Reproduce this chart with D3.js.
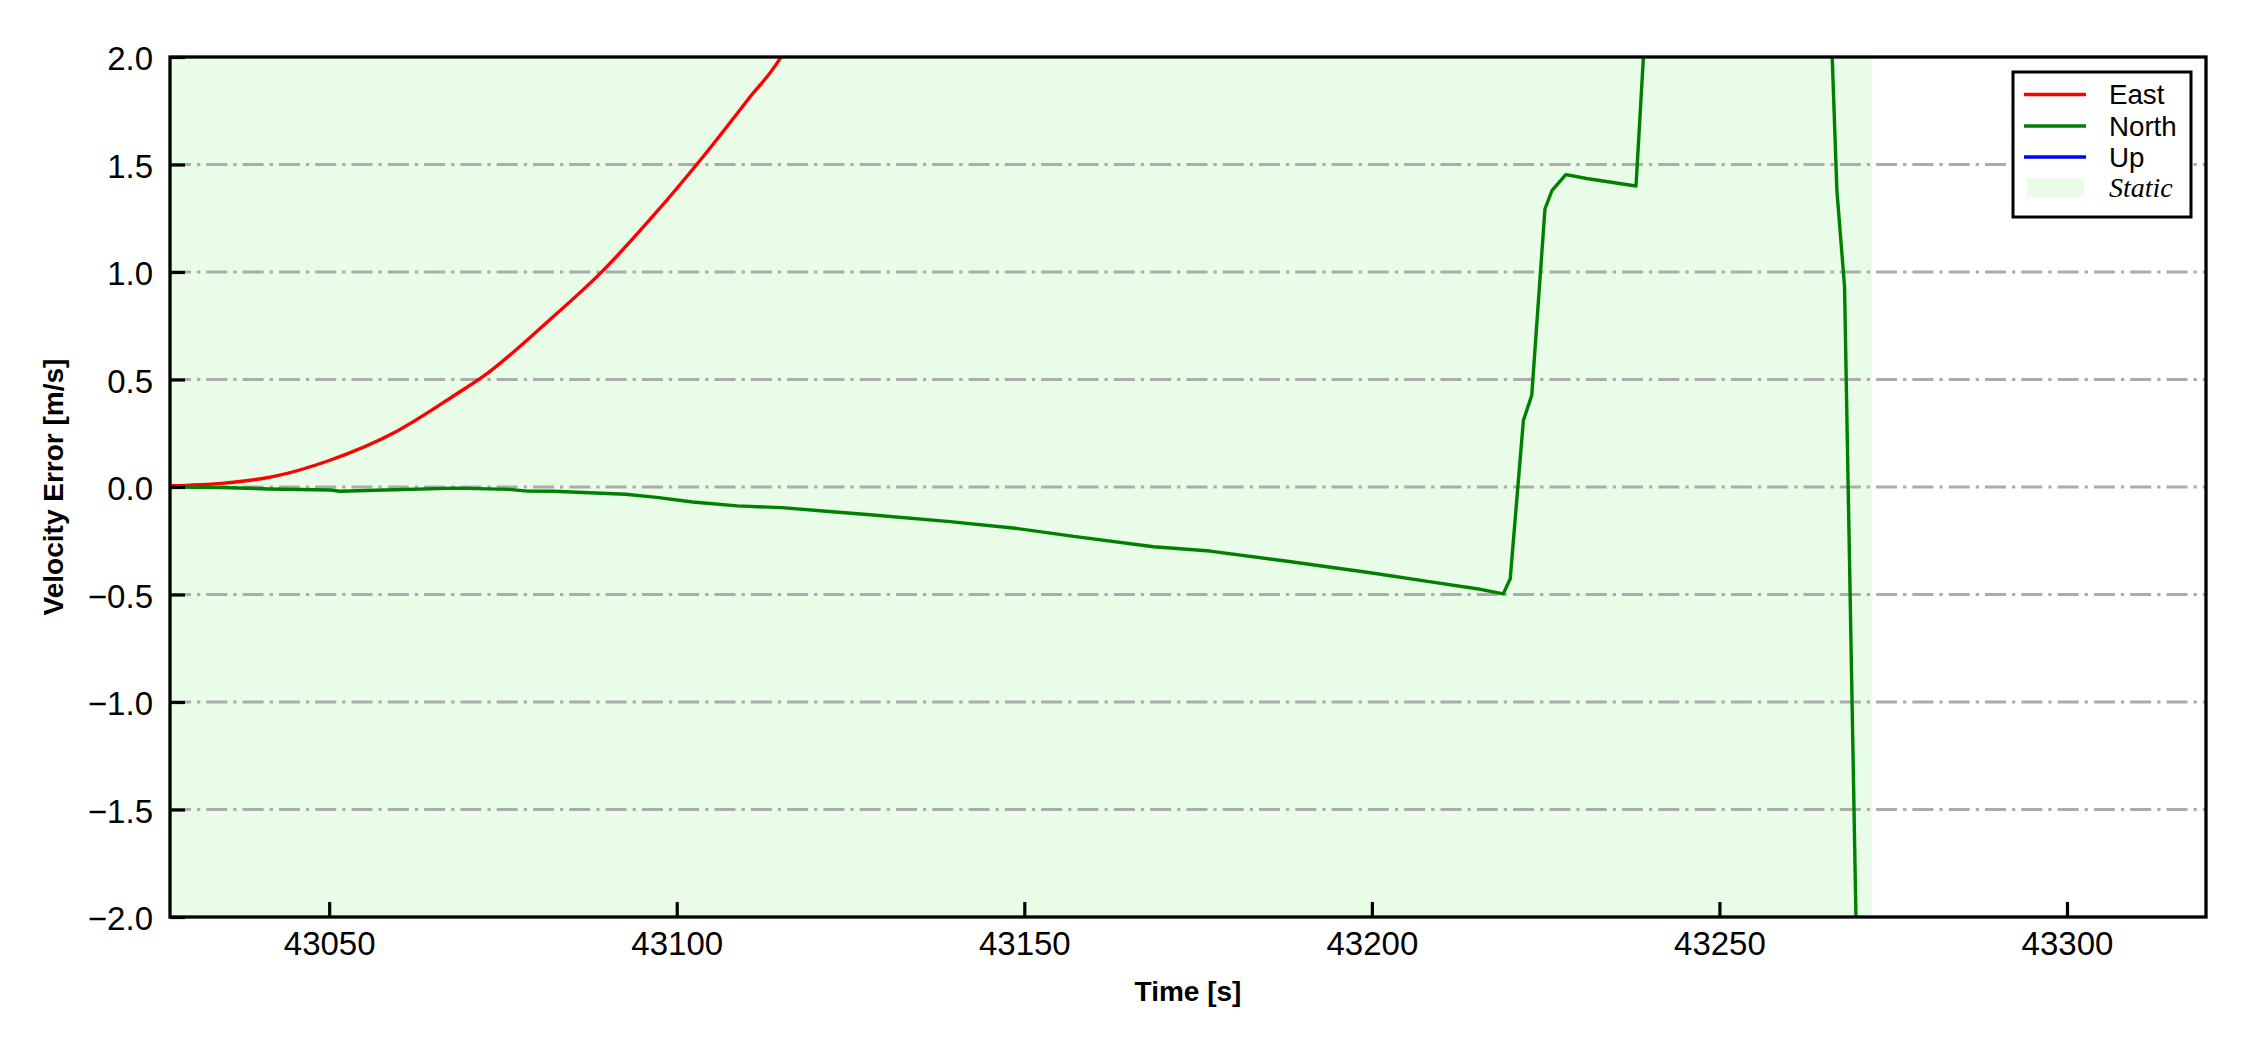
<!DOCTYPE html>
<html>
<head>
<meta charset="utf-8">
<script src="https://cdn.jsdelivr.net/npm/d3@7"></script>
<style>
  html, body { margin: 0; padding: 0; background: #ffffff; }
  svg { display: block; }
</style>
</head>
<body>
<svg id="chart" width="2250" height="1050"></svg>
<script>
// ---------------- data ----------------
const xDomain = [43027.1, 43320.0];
const yDomain = [-2.0, 2.0];
const xTicks = [43050, 43100, 43150, 43200, 43250, 43300];
const yTicks = [-2.0, -1.5, -1.0, -0.5, 0.0, 0.5, 1.0, 1.5, 2.0];

const eastTime  = [43027.1, 43034.5, 43041.9, 43049.9, 43059.6, 43068.1, 43072.1, 43081.7, 43089.1, 43096.5, 43103.4, 43110.2, 43115.0, 43117.0];
const eastValue = [0.006, 0.017, 0.048, 0.122, 0.257, 0.428, 0.513, 0.777, 0.997, 1.257, 1.521, 1.800, 2.000, 2.120];

const northTime  = [43027.1, 43034.2, 43041.3, 43050.2, 43051.5, 43058.0, 43068.2, 43075.9, 43078.5, 43082.3,
                    43092.6, 43097.1, 43102.3, 43108.7, 43115.1, 43121.5, 43127.8, 43139.3, 43148.7, 43157.4,
                    43168.6, 43176.7, 43187.3, 43199.8, 43209.2, 43215.1, 43218.9, 43219.9, 43221.8, 43223.0,
                    43224.9, 43225.9, 43227.9, 43230.9, 43238.0, 43239.6, 43265.9, 43266.9, 43268.0, 43269.7];
const northValue = [0.000, -0.002, -0.009, -0.014, -0.020, -0.014, -0.005, -0.011, -0.019, -0.020,
                    -0.034, -0.048, -0.070, -0.088, -0.096, -0.113, -0.129, -0.161, -0.192, -0.231,
                    -0.278, -0.298, -0.343, -0.399, -0.445, -0.473, -0.497, -0.428, 0.310, 0.426,
                    1.293, 1.378, 1.453, 1.435, 1.400, 2.300, 2.300, 1.378, 0.933, -2.100];

// Up series lies outside the visible range (not drawn inside the axes)
const upTime  = [];
const upValue = [];

const staticSpans = [[43027.1, 43272.0]];

const seriesNames  = ["East", "North", "Up"];
const seriesColors = ["#ff0000", "#008000", "#0000ff"];

// ---------------- layout ----------------
const svg = d3.select("#chart");
const plot = { left: 170, right: 2206, top: 57, bottom: 917 };
const x = d3.scaleLinear().domain(xDomain).range([plot.left, plot.right]);
const y = d3.scaleLinear().domain(yDomain).range([plot.bottom, plot.top]);

const FONT = "'Liberation Sans', Arial, Helvetica, sans-serif";

svg.append("rect").attr("width", 2250).attr("height", 1050).attr("fill", "#ffffff");

svg.append("defs").append("clipPath").attr("id", "clip")
  .append("rect")
  .attr("x", plot.left).attr("y", plot.top)
  .attr("width", plot.right - plot.left).attr("height", plot.bottom - plot.top);

const g = svg.append("g").attr("clip-path", "url(#clip)");

// static spans
g.selectAll("rect.static").data(staticSpans).enter().append("rect")
  .attr("class", "static")
  .attr("x", d => x(d[0]))
  .attr("y", plot.top)
  .attr("width", d => x(d[1]) - x(d[0]))
  .attr("height", plot.bottom - plot.top)
  .attr("fill", "#e8fce8");

// grid lines (y only, dash-dot)
g.selectAll("line.grid").data(yTicks.filter(v => v > yDomain[0] && v < yDomain[1])).enter().append("line")
  .attr("class", "grid")
  .attr("x1", plot.left).attr("x2", plot.right)
  .attr("y1", d => y(d)).attr("y2", d => y(d))
  .attr("stroke", "#ababab")
  .attr("stroke-width", 3.2)
  .attr("stroke-dasharray", "21,6,3.3,6");

// series
const lineLinear = d3.line().x(d => x(d[0])).y(d => y(d[1]));
const lineSmooth = d3.line().x(d => x(d[0])).y(d => y(d[1])).curve(d3.curveMonotoneX);
const seriesData = [
  d3.zip(eastTime, eastValue),
  d3.zip(northTime, northValue),
  d3.zip(upTime, upValue)
];
seriesData.forEach((data, i) => {
  if (!data.length) return;
  g.append("path")
    .datum(data)
    .attr("d", i === 0 ? lineSmooth : lineLinear)
    .attr("fill", "none")
    .attr("stroke", seriesColors[i])
    .attr("stroke-width", 3.4)
    .attr("stroke-linejoin", "round");
});

// axes
const xAxis = d3.axisBottom(x).tickValues(xTicks).tickSize(-15).tickFormat(d3.format("d"));
const yAxis = d3.axisLeft(y).tickValues(yTicks).tickSize(-15).tickPadding(17).tickFormat(d3.format(".1f"));

const gx = svg.append("g").attr("transform", `translate(0,${plot.bottom})`).call(xAxis);
gx.select(".domain").remove();
gx.selectAll(".tick line").attr("stroke", "#000").attr("stroke-width", 3.2);
gx.selectAll(".tick text")
  .attr("y", 38).attr("dy", 0)
  .attr("font-family", FONT).attr("font-size", 33).attr("fill", "#000");

const gy = svg.append("g").attr("transform", `translate(${plot.left},0)`).call(yAxis);
gy.select(".domain").remove();
gy.selectAll(".tick line").attr("stroke", "#000").attr("stroke-width", 3.2);
gy.selectAll(".tick text")
  .attr("dy", "0.39em")
  .attr("font-family", FONT).attr("font-size", 33).attr("fill", "#000");

// frame
svg.append("rect")
  .attr("x", plot.left).attr("y", plot.top)
  .attr("width", plot.right - plot.left).attr("height", plot.bottom - plot.top)
  .attr("fill", "none").attr("stroke", "#000").attr("stroke-width", 3.3);

// axis labels
svg.append("text")
  .attr("x", (plot.left + plot.right) / 2).attr("y", 1001)
  .attr("text-anchor", "middle")
  .attr("font-family", FONT).attr("font-weight", "bold").attr("font-size", 28)
  .text("Time [s]");

svg.append("text")
  .attr("transform", `translate(63,${(plot.top + plot.bottom) / 2}) rotate(-90)`)
  .attr("text-anchor", "middle")
  .attr("font-family", FONT).attr("font-weight", "bold").attr("font-size", 28)
  .text("Velocity Error [m/s]");

// legend
const lg = svg.append("g");
lg.append("rect")
  .attr("x", 2013).attr("y", 72).attr("width", 178).attr("height", 145)
  .attr("fill", "#ffffff").attr("stroke", "#000").attr("stroke-width", 3);
const rowY = [94.5, 126, 157, 187.5];
seriesNames.forEach((name, i) => {
  lg.append("line")
    .attr("x1", 2024).attr("x2", 2086)
    .attr("y1", rowY[i]).attr("y2", rowY[i])
    .attr("stroke", seriesColors[i]).attr("stroke-width", 3.4);
  lg.append("text")
    .attr("x", 2109).attr("y", rowY[i]).attr("dy", "0.36em")
    .attr("font-family", FONT).attr("font-size", 27.7).attr("fill", "#000")
    .text(name);
});
lg.append("rect")
  .attr("x", 2027).attr("y", 178).attr("width", 57).attr("height", 19)
  .attr("fill", "#e8fce8");
lg.append("text")
  .attr("x", 2109).attr("y", rowY[3]).attr("dy", "0.34em")
  .attr("font-family", "'Liberation Serif', 'Times New Roman', serif")
  .attr("font-style", "italic").attr("font-size", 28).attr("fill", "#000")
  .text("Static");
</script>
</body>
</html>
